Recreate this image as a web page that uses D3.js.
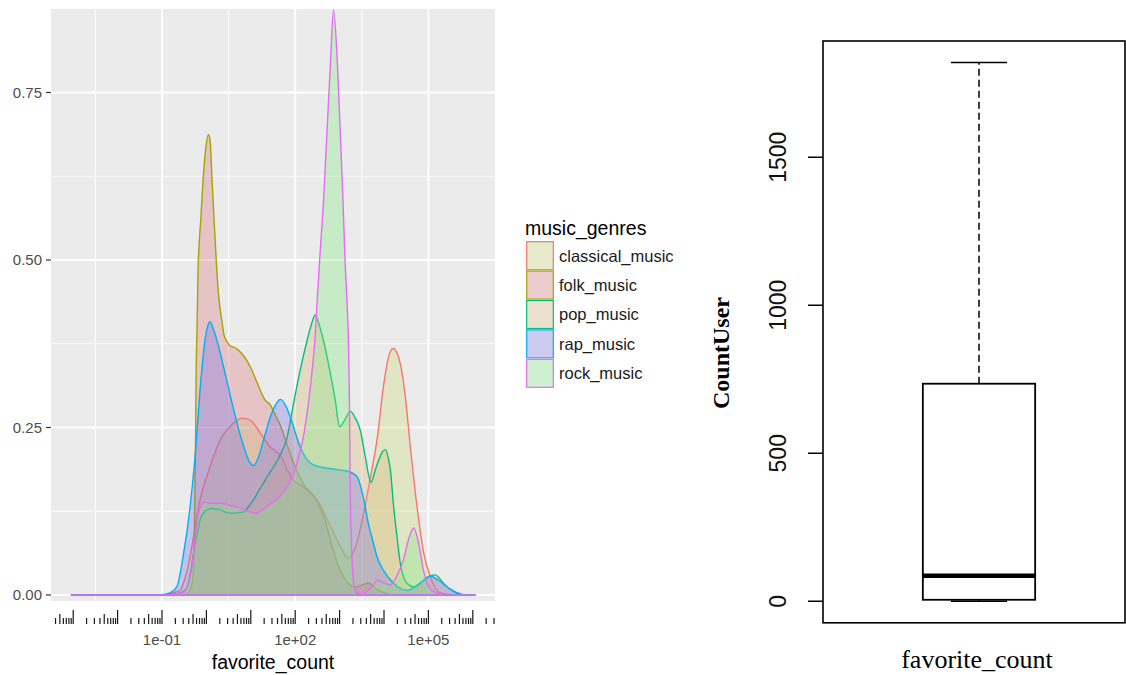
<!DOCTYPE html>
<html lang="en">
<head>
  <meta charset="UTF-8">
  <title>favorite_count by music genre</title>
  <style>
  body { margin: 0; background: #fff; }
  svg { display: block; font-family: 'Liberation Sans', Arial, sans-serif; }
  .panel { fill: #ebebeb; }
  .grid-major { stroke: #fff; stroke-width: 1.8px; }
  .grid-minor { stroke: #fff; stroke-width: 0.9px; }
  .tick-label { fill: #4d4d4d; font-size: 15px; }
  .axis-title { fill: #000; font-size: 19.5px; }
  .density { stroke-width: 1.4px; fill-opacity: 0.33; }
  .logtick { stroke: #1a1a1a; stroke-width: 1.2px; }
  .box-line { stroke: #000; fill: none; }
  .serif { font-family: 'Liberation Serif', 'Times New Roman', serif; }
  </style>
</head>
<body>
  <svg width="1126" height="675"></svg>
  <script src="https://d3js.org/d3.v7.min.js"></script>
  <script>

  var genres = ['classical_music', 'folk_music', 'pop_music', 'rap_music', 'rock_music'];
  var lineColors = ['#F8766D', '#A3A500', '#00BF7D', '#00B0F6', '#E76BF3'];
  var fillColors = ['#CADB77', '#DE737A', '#DEB677', '#7770EB', '#7EEB81'];

  // density curves: [log10(favorite_count), density]
  var classicalMusic = [[-3.053,0],[-1.271,0],[-0.932,.001],[-0.707,.004],[-0.594,.007],[-0.481,.025],[-0.368,.057],
    [-0.256,.100],[-0.143,.142],[-0.030,.169],[0.083,.191],[0.195,.213],[0.308,.231],[0.421,.243],[0.534,.251],
    [0.669,.260],[0.798,.264],[0.895,.263],[1.023,.259],[1.120,.251],[1.211,.242],[1.323,.231],[1.436,.221],
    [1.549,.215],[1.662,.209],[1.820,.187],[1.955,.172],[2.113,.164],[2.271,.158],[2.406,.149],[2.564,.134],
    [2.722,.112],[2.857,.094],[3.015,.073],[3.196,.055],[3.376,.075],[3.534,.120],[3.692,.175],[3.850,.235],
    [3.985,.310],[4.098,.354],[4.203,.368],[4.368,.345],[4.481,.295],[4.594,.221],[4.745,.131],[4.894,.063],
    [5.045,.027],[5.271,.003],[5.6,0],[6.06,0]];

  var folkMusic = [[-3.053,0],[-1.271,0],[-0.707,.001],[-0.481,.001],[-0.368,.007],[-0.301,.030],[-0.267,.112],
    [-0.244,.231],[-0.233,.321],[-0.211,.396],[-0.188,.485],[-0.127,.560],[-0.075,.619],[-0.019,.664],[0.044,.687],
    [0.083,.679],[0.128,.619],[0.173,.560],[0.234,.485],[0.286,.440],[0.347,.410],[0.398,.388],[0.459,.379],
    [0.534,.372],[0.647,.369],[0.759,.363],[0.872,.354],[0.985,.341],[1.098,.324],[1.211,.306],[1.323,.291],
    [1.436,.284],[1.549,.269],[1.662,.254],[1.820,.224],[1.955,.199],[2.113,.175],[2.271,.157],[2.406,.148],
    [2.564,.130],[2.722,.100],[2.857,.067],[3.015,.037],[3.173,.019],[3.353,.012],[3.511,.015],[3.647,.018],
    [3.805,.010],[4.030,.003],[4.256,0],[6.06,0]];

  var popMusic = [[-3.053,0],[-0.932,0],[-0.594,.003],[-0.443,.010],[-0.368,.030],[-0.278,.067],[-0.211,.090],
    [-0.143,.112],[-0.068,.122],[0.015,.127],[0.121,.129],[0.308,.127],[0.466,.123],[0.608,.122],[0.714,.123],
    [0.834,.124],[0.940,.131],[1.059,.142],[1.165,.154],[1.285,.167],[1.391,.179],[1.511,.191],[1.662,.209],
    [1.812,.234],[1.955,.283],[2.113,.336],[2.264,.379],[2.361,.403],[2.451,.418],[2.541,.403],[2.632,.381],
    [2.722,.354],[2.790,.331],[2.902,.291],[3.000,.251],[3.105,.260],[3.241,.274],[3.353,.264],[3.466,.246],
    [3.579,.206],[3.708,.168],[3.805,.187],[3.879,.201],[3.956,.213],[4.030,.217],[4.098,.204],[4.143,.187],
    [4.217,.132],[4.293,.087],[4.368,.047],[4.520,.017],[4.669,.012],[4.774,.016],[4.894,.022],[5.023,.028],
    [5.158,.030],[5.248,.025],[5.346,.017],[5.571,.005],[5.796,0],[6.06,0]];

  var rapMusic = [[-3.053,0],[-1.045,0],[-0.820,.003],[-0.668,.012],[-0.526,.057],[-0.368,.131],[-0.256,.206],
    [-0.143,.306],[-0.030,.381],[0.038,.403],[0.083,.408],[0.150,.398],[0.234,.381],[0.421,.331],[0.602,.280],
    [0.798,.231],[0.985,.197],[1.059,.193],[1.165,.204],[1.285,.231],[1.474,.272],[1.623,.290],[1.662,.292],
    [1.774,.284],[1.887,.266],[2.113,.221],[2.338,.197],[2.564,.191],[2.857,.188],[3.166,.185],[3.392,.177],
    [3.534,.146],[3.647,.107],[3.759,.078],[3.843,.057],[3.985,.037],[4.210,.018],[4.520,.007],[4.774,.015],
    [5.045,.028],[5.226,.022],[5.422,.012],[5.632,.004],[5.873,0],[6.06,0]];

  var rockMusic = [[-3.053,0],[-0.932,0],[-0.526,.004],[-0.414,.015],[-0.323,.045],[-0.256,.082],[-0.188,.119],
    [-0.120,.134],[-0.030,.139],[0.083,.137],[0.308,.137],[0.534,.134],[0.759,.130],[0.985,.124],[1.120,.122],
    [1.256,.127],[1.436,.136],[1.571,.142],[1.707,.151],[1.842,.164],[1.977,.183],[2.090,.209],[2.203,.243],
    [2.293,.284],[2.383,.336],[2.451,.388],[2.496,.440],[2.541,.490],[2.639,.590],[2.715,.690],[2.790,.788],
    [2.864,.873],[2.954,.788],[3.015,.690],[3.076,.590],[3.128,.490],[3.166,.440],[3.203,.366],[3.218,.306],
    [3.241,.157],[3.279,.057],[3.315,.018],[3.376,.004],[3.511,.001],[3.647,.007],[3.759,.015],[3.850,.022],
    [3.962,.019],[4.143,.015],[4.278,.027],[4.436,.052],[4.549,.082],[4.669,.100],[4.752,.085],[4.820,.063],
    [4.887,.037],[4.971,.018],[5.068,.007],[5.196,.003],[5.383,0],[6.06,0]];

  var densitySeries = [classicalMusic, folkMusic, popMusic, rapMusic, rockMusic];

  var densityTicks = [0, 0.25, 0.5, 0.75];
  var densityMinor = [0.125, 0.375, 0.625];
  var favTicks = [1e-1, 1e2, 1e5];
  var favTickLabels = ['1e-01', '1e+02', '1e+05'];
  var favMinor = [Math.pow(10, -2.5), Math.pow(10, 0.5), Math.pow(10, 3.5)];

  // CountUser boxplot: min, q1, median, q3, max
  var boxStats = [0, 5, 86, 735, 1820];
  var countTicks = [0, 500, 1000, 1500];

  var svg = d3.select('svg');

  // ---- left: ggplot style density plot ----
  var panel = { left: 51, right: 495, top: 9, bottom: 601 };

  var x = d3.scaleLog()
            .domain([Math.pow(10, -3.5), Math.pow(10, 6.5)])
            .range([panel.left, panel.right]);

  var y = d3.scaleLinear()
            .domain([-0.00896, 0.8746])
            .range([panel.bottom, panel.top]);

  var left = svg.append('g');

  left.append('rect')
      .attr('class', 'panel')
      .attr('x', panel.left).attr('y', panel.top)
      .attr('width', panel.right - panel.left)
      .attr('height', panel.bottom - panel.top);

  left.selectAll('.gy-minor').data(densityMinor).enter().append('line')
      .attr('class', 'grid-minor')
      .attr('x1', panel.left).attr('x2', panel.right)
      .attr('y1', y).attr('y2', y);

  left.selectAll('.gx-minor').data(favMinor).enter().append('line')
      .attr('class', 'grid-minor')
      .attr('x1', x).attr('x2', x)
      .attr('y1', panel.top).attr('y2', panel.bottom);

  left.selectAll('.gy-major').data(densityTicks).enter().append('line')
      .attr('class', 'grid-major')
      .attr('x1', panel.left).attr('x2', panel.right)
      .attr('y1', y).attr('y2', y);

  left.selectAll('.gx-major').data(favTicks).enter().append('line')
      .attr('class', 'grid-major')
      .attr('x1', x).attr('x2', x)
      .attr('y1', panel.top).attr('y2', panel.bottom);

  svg.append('clipPath').attr('id', 'panel-clip')
     .append('rect')
     .attr('x', panel.left).attr('y', panel.top)
     .attr('width', panel.right - panel.left)
     .attr('height', panel.bottom - panel.top);

  var area = d3.area()
               .curve(d3.curveMonotoneX)
               .x(function (d) { return x(Math.pow(10, d[0])); })
               .y0(y(0))
               .y1(function (d) { return y(d[1]); });

  left.append('g')
      .attr('clip-path', 'url(#panel-clip)')
      .selectAll('path')
      .data(densitySeries)
      .enter()
      .append('path')
      .attr('class', 'density')
      .attr('d', function (d) { return area(d) + 'Z'; })
      .attr('fill', function (d, i) { return fillColors[i]; })
      .attr('stroke', function (d, i) { return lineColors[i]; });

  // y axis
  left.selectAll('.ytick').data(densityTicks).enter().append('line')
      .attr('stroke', '#333').attr('stroke-width', 1.2)
      .attr('x1', panel.left - 5).attr('x2', panel.left)
      .attr('y1', y).attr('y2', y);

  left.selectAll('.ylab').data(densityTicks).enter().append('text')
      .attr('class', 'tick-label')
      .attr('text-anchor', 'end')
      .attr('x', panel.left - 9)
      .attr('y', y)
      .attr('dy', '0.36em')
      .text(d3.format('.2f'));

  // log ticks under the panel: long at 10^n, mid at 5*10^n
  var logTicks = x.ticks(11);
  left.selectAll('.logtick').data(logTicks).enter().append('line')
      .attr('class', 'logtick')
      .attr('x1', x).attr('x2', x)
      .attr('y1', 624)
      .attr('y2', function (d) {
        var k = Math.round(d / Math.pow(10, Math.floor(Math.log10(d) + 1e-9)));
        return 624 - (k === 1 ? 14 : k === 5 ? 10 : 6);
      });

  left.selectAll('.xlab').data(favTicks).enter().append('text')
      .attr('class', 'tick-label')
      .attr('text-anchor', 'middle')
      .attr('x', x)
      .attr('y', 645)
      .text(function (d, i) { return favTickLabels[i]; });

  left.append('text')
      .attr('class', 'axis-title')
      .attr('text-anchor', 'middle')
      .attr('x', (panel.left + panel.right) / 2)
      .attr('y', 669)
      .text('favorite_count');

  // legend
  var legend = left.append('g').attr('transform', 'translate(525,0)');
  legend.append('text')
        .attr('class', 'axis-title')
        .attr('x', 0).attr('y', 235)
        .text('music_genres');

  var keyH = 29.4;
  var keys = legend.selectAll('.key').data(genres).enter().append('g')
                   .attr('transform', function (d, i) { return 'translate(1,' + (241 + i * keyH) + ')'; });
  keys.append('rect')
      .attr('width', 28).attr('height', keyH)
      .attr('fill', '#f2f2f2');
  keys.append('rect')
      .attr('x', 0.7).attr('y', 0.7)
      .attr('width', 26.6).attr('height', keyH - 1.4)
      .attr('fill', function (d, i) { return fillColors[i]; })
      .attr('fill-opacity', 0.3)
      .attr('stroke', function (d, i) { return lineColors[i]; })
      .attr('stroke-width', 1.2);
  keys.append('text')
      .attr('x', 33).attr('y', keyH / 2)
      .attr('dy', '0.36em')
      .attr('fill', '#1a1a1a')
      .style('font-size', '16.5px')
      .text(function (d) { return d; });

  // ---- right: base R boxplot of CountUser ----
  var frame = { left: 823, right: 1125, top: 41, bottom: 622.8 };
  var pad = 0.04 * (boxStats[4] - boxStats[0]);

  var yb = d3.scaleLinear()
             .domain([boxStats[0] - pad, boxStats[4] + pad])
             .range([frame.bottom, frame.top]);

  var xb = d3.scaleLinear().domain([0.5, 1.5]).range([823, 1135]);
  var boxwex = 0.36;

  var right = svg.append('g');

  right.append('rect')
       .attr('class', 'box-line')
       .attr('stroke-width', 1.6)
       .attr('x', frame.left).attr('y', frame.top)
       .attr('width', frame.right - frame.left)
       .attr('height', frame.bottom - frame.top);

  // whiskers
  right.append('line')
       .attr('class', 'box-line')
       .attr('stroke-width', 1.5)
       .attr('stroke-dasharray', '7,4')
       .attr('x1', xb(1)).attr('x2', xb(1))
       .attr('y1', yb(boxStats[3])).attr('y2', yb(boxStats[4]));

  right.append('line')
       .attr('class', 'box-line')
       .attr('stroke-width', 1.5)
       .attr('stroke-dasharray', '7,4')
       .attr('x1', xb(1)).attr('x2', xb(1))
       .attr('y1', yb(boxStats[1])).attr('y2', yb(boxStats[0]));

  right.selectAll('.staple').data([boxStats[0], boxStats[4]]).enter().append('line')
       .attr('class', 'box-line')
       .attr('stroke-width', 1.6)
       .attr('x1', xb(1 - boxwex / 4)).attr('x2', xb(1 + boxwex / 4))
       .attr('y1', yb).attr('y2', yb);

  right.append('rect')
       .attr('class', 'box-line')
       .attr('fill', '#fff')
       .attr('stroke-width', 1.8)
       .attr('x', xb(1 - boxwex / 2))
       .attr('y', yb(boxStats[3]))
       .attr('width', xb(1 + boxwex / 2) - xb(1 - boxwex / 2))
       .attr('height', yb(boxStats[1]) - yb(boxStats[3]));

  right.append('line')
       .attr('class', 'box-line')
       .attr('stroke-width', 4.5)
       .attr('x1', xb(1 - boxwex / 2)).attr('x2', xb(1 + boxwex / 2))
       .attr('y1', yb(boxStats[2])).attr('y2', yb(boxStats[2]));

  // y axis
  right.selectAll('.btick').data(countTicks).enter().append('line')
       .attr('class', 'box-line')
       .attr('stroke-width', 1.5)
       .attr('x1', frame.left - 15).attr('x2', frame.left)
       .attr('y1', yb).attr('y2', yb);

  right.selectAll('.blab').data(countTicks).enter().append('text')
       .attr('text-anchor', 'middle')
       .attr('transform', function (d) { return 'translate(786,' + yb(d) + ')rotate(-90)'; })
       .attr('fill', '#111')
       .style('font-size', '23px')
       .text(function (d) { return d; });

  right.append('text')
       .attr('class', 'serif')
       .attr('text-anchor', 'middle')
       .attr('transform', 'translate(729,353)rotate(-90)')
       .style('font-size', '24px')
       .style('font-weight', 'bold')
       .text('CountUser');

  right.append('text')
       .attr('class', 'serif')
       .attr('text-anchor', 'middle')
       .attr('x', 977).attr('y', 668)
       .style('font-size', '26px')
       .text('favorite_count');

  </script>
</body>
</html>
